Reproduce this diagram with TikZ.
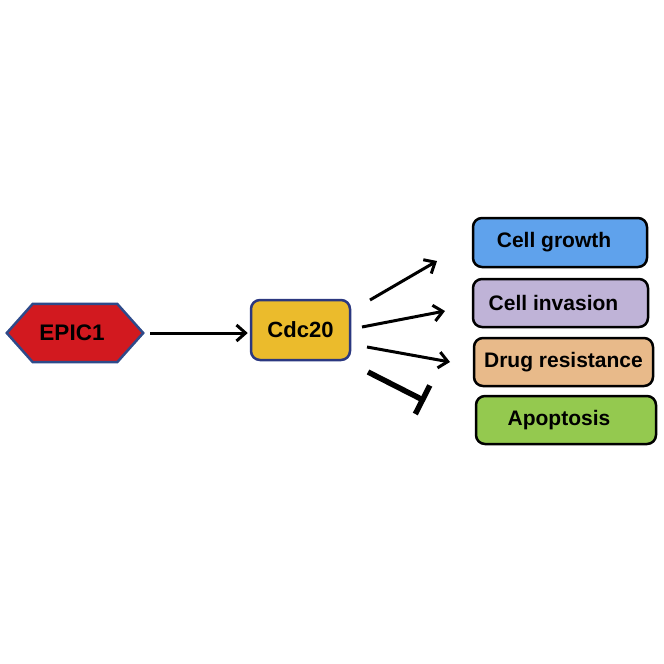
\documentclass[tikz,border=0pt]{standalone}
\usepackage{fontspec}
\setmainfont{Liberation Sans}
\usetikzlibrary{arrows.meta,backgrounds}
\definecolor{epicred}{HTML}{D2191F}
\definecolor{epicedge}{HTML}{2E4A8A}
\definecolor{cdcfill}{HTML}{EBBB2C}
\definecolor{cdcedge}{HTML}{2B3880}
\definecolor{growthfill}{HTML}{5FA2EC}
\definecolor{invfill}{HTML}{BFB3D7}
\definecolor{drugfill}{HTML}{E8BA8A}
\definecolor{apofill}{HTML}{94C94F}
\begin{document}
\begin{tikzpicture}[x=1pt,y=-1pt,
  lbl/.style={font=\fontsize{21}{25}\selectfont\bfseries, text=black},
  biglbl/.style={font=\fontsize{22.5}{26}\selectfont\bfseries, text=black},
  outbox/.style={draw=black, line width=2.5pt, rounded corners=9pt, lbl, inner sep=0pt},
  conn/.style={line width=3pt, -{Straight Barb[length=9pt,width=16pt]}},
  inhib/.style={line width=5.5pt, -{Bar[width=32pt]}}]
\useasboundingbox (0,0) rectangle (664,664);

% EPIC1 hexagon
\node[biglbl, minimum width=136pt, minimum height=58pt, inner sep=0pt] (epic) at (75,333) {EPIC1\kern6pt};
\begin{scope}[on background layer]
\draw[fill=epicred, draw=epicedge, line width=2.5pt, line join=miter]
  (epic.west) -- ([xshift=26pt]epic.north west) -- ([xshift=-26pt]epic.north east)
  -- (epic.east) -- ([xshift=-26pt]epic.south east) -- ([xshift=26pt]epic.south west) -- cycle;
\end{scope}

% Cdc20
\node[font=\fontsize{22}{26}\selectfont\bfseries, text=black, draw=cdcedge, fill=cdcfill, line width=2.5pt, rounded corners=9pt,
      minimum width=99pt, minimum height=60pt, inner sep=0pt] (cdc) at (300.5,330) {Cdc20};

% outcome boxes
\node[outbox, fill=growthfill, minimum width=174pt, minimum height=49pt] (growth) at (560,242.5) {Cell growth\kern12pt};
\node[outbox, fill=invfill, minimum width=175pt, minimum height=48pt] (inv) at (560.5,303) {Cell invasion\kern14pt};
\node[outbox, fill=drugfill, minimum width=179pt, minimum height=48pt] (drug) at (563.5,362) {Drug resistance};
\node[outbox, fill=apofill, minimum width=180pt, minimum height=48pt] (apo) at (566,420) {Apoptosis\kern14pt};

% connector end points
\coordinate (a1s) at (370,300); \coordinate (a1e) at (437,261);
\coordinate (a2s) at (362,327); \coordinate (a2e) at (445,311);
\coordinate (a3s) at (367,347); \coordinate (a3e) at (450,362);
\coordinate (a4s) at (368,372); \coordinate (a4e) at (425,401);

\draw[conn] ([xshift=7pt]epic.east) -- ([xshift=-2pt]cdc.west |- epic.east);
\draw[conn] (a1s) -- (a1e);
\draw[conn] (a2s) -- (a2e);
\draw[conn] (a3s) -- (a3e);
\draw[inhib] (a4s) -- (a4e);
\end{tikzpicture}
\end{document}
